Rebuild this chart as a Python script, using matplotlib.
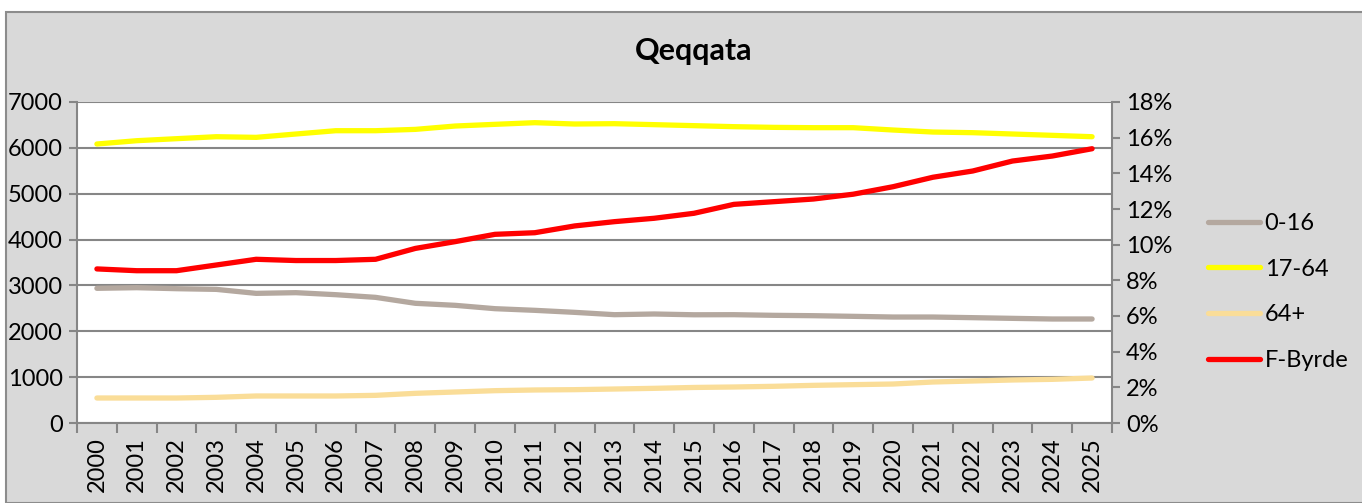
import numpy as np
import matplotlib as mpl
import matplotlib.pyplot as plt
from matplotlib.patches import Rectangle
from matplotlib.ticker import FuncFormatter, MultipleLocator, FixedLocator

mpl.use("Agg")

###############################################################################

years = [str(y) for y in range(2000, 2026)]

age_0_16 = [2937, 2951, 2929, 2914, 2827, 2842, 2798, 2740, 2610, 2566,
            2493, 2457, 2413, 2362, 2377, 2360, 2362, 2348, 2340, 2326,
            2311, 2311, 2297, 2282, 2268, 2268]

age_17_64 = [6084, 6156, 6200, 6243, 6229, 6302, 6374, 6374, 6403, 6476,
             6513, 6549, 6520, 6527, 6506, 6484, 6462, 6447, 6440, 6440,
             6389, 6345, 6331, 6302, 6273, 6243]

age_64_plus = [545, 545, 545, 560, 589, 589, 589, 603, 647, 676,
               705, 720, 727, 741, 756, 775, 785, 800, 821, 836,
               850, 894, 916, 938, 952, 981]

f_byrde = [8.64, 8.54, 8.54, 8.86, 9.18, 9.11, 9.11, 9.18, 9.79, 10.17,
           10.58, 10.67, 11.05, 11.29, 11.48, 11.76, 12.26, 12.41, 12.56, 12.83,
           13.25, 13.78, 14.13, 14.69, 14.97, 15.38]

series_names = ["0-16", "17-64", "64+", "F-Byrde"]

###############################################################################

plt.rcParams.update({"font.family": ["Lato", "DejaVu Sans"]})
font_size = 17

bg = "#D9D9D9"
grid_color = "#868686"

fig = plt.figure(figsize=(13.62, 5.03), dpi=100)
fig.patch.set_facecolor("white")
fig.patches.append(
    Rectangle((6 / 1362, 0), 1.2, 1 - 12 / 503, transform=fig.transFigure,
              facecolor=bg, edgecolor="#8C8C8C", linewidth=1.5, zorder=-10)
)

ax = fig.add_axes([77 / 1362, 1 - 423 / 503, (1112 - 77) / 1362, (423 - 102) / 503])
ax.set_facecolor("white")
x = np.arange(len(years))

lw = 3.8
l1, = ax.plot(x, age_0_16, color="#B4A89F", lw=lw, solid_capstyle="round")
l2, = ax.plot(x, age_17_64, color="#FFFF00", lw=lw, solid_capstyle="round")
l3, = ax.plot(x, age_64_plus, color="#FADD98", lw=lw, solid_capstyle="round")

ax.set_ylim(0, 7000)
ax.set_xlim(-0.5, len(years) - 0.5)
ax.yaxis.set_major_locator(MultipleLocator(1000))
ax.grid(axis="y", color=grid_color, lw=1.5)
ax.set_axisbelow(True)

ax.set_xticks(x)
ax.set_xticklabels(years, rotation=90, fontsize=font_size)
ax.xaxis.set_minor_locator(FixedLocator(np.arange(-0.5, len(years), 1)))
ax.tick_params(axis="x", which="major", length=0, pad=10)
ax.tick_params(axis="x", which="minor", length=7, width=1.5, color=grid_color)
ax.tick_params(axis="y", length=6, width=1.5, color=grid_color, labelsize=font_size, pad=4)

for side in ["left", "bottom"]:
    ax.spines[side].set_color(grid_color)
    ax.spines[side].set_linewidth(1.5)
ax.spines["top"].set_visible(False)
ax.spines["right"].set_visible(False)

ax2 = ax.twinx()
l4, = ax2.plot(x, np.array(f_byrde) / 100, color="#FF0000", lw=lw, solid_capstyle="round")
ax2.set_ylim(0, 0.18)
ax2.yaxis.set_major_locator(MultipleLocator(0.02))
ax2.yaxis.set_major_formatter(FuncFormatter(lambda v, p: "%d%%" % round(v * 100)))
ax2.tick_params(axis="y", length=6, width=1.5, color=grid_color, labelsize=font_size, pad=4)
ax2.spines["right"].set_color(grid_color)
ax2.spines["right"].set_linewidth(1.5)
for side in ["left", "bottom", "top"]:
    ax2.spines[side].set_visible(False)

fig.text(694 / 1362, 1 - 51 / 503, "Qeqqata", fontsize=22, weight="bold",
         ha="center", va="center")

fig.legend(
    [l1, l2, l3, l4], series_names,
    loc="center left", bbox_to_anchor=(1208 / 1362, 1 - 292 / 503),
    frameon=False, fontsize=font_size, handlelength=2.2, handletextpad=0.2,
    labelspacing=1.05, borderpad=0, borderaxespad=0,
)

plt.savefig("out.png", dpi=100)
plt.close()
